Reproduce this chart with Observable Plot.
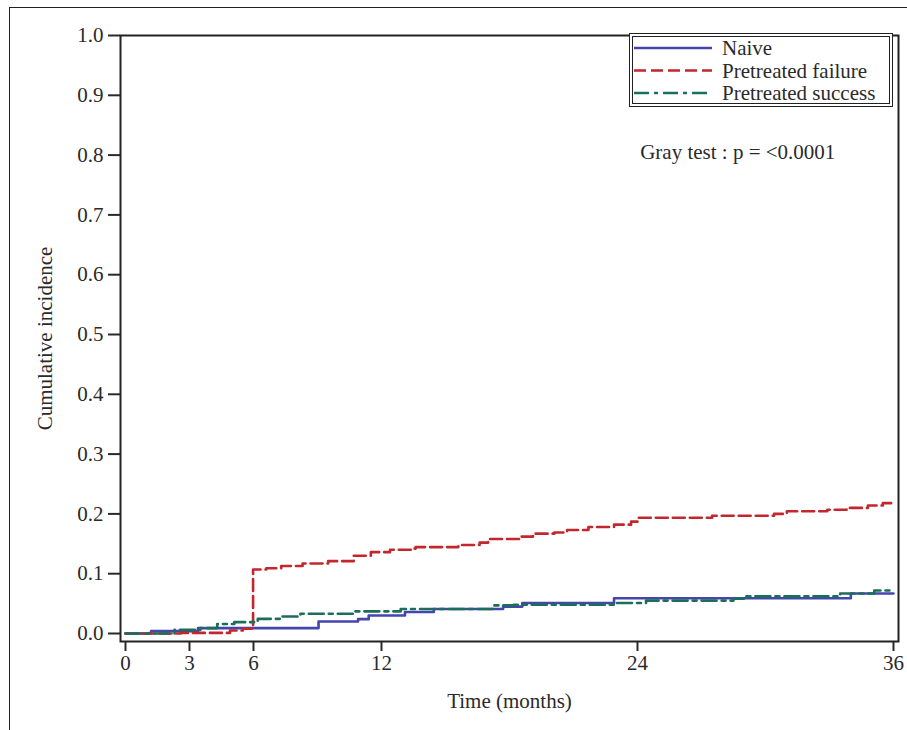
<!DOCTYPE html>
<html><head><meta charset="utf-8">
<script src="https://cdn.jsdelivr.net/npm/d3@7"></script>
<script src="https://cdn.jsdelivr.net/npm/@observablehq/plot@0.6"></script>
<style>
html,body{margin:0;padding:0;background:#fff;overflow:hidden;}
#wrap{position:relative;width:907px;height:730px;}
#outer{position:absolute;left:9px;top:7px;width:1200px;height:1200px;border:1.5px solid #222;pointer-events:none;}
#legend{position:absolute;left:629px;top:33px;width:256px;height:66px;border:4px double #222;background:#fff;}
#legend svg{overflow:visible;}
</style>
</head><body>
<div id="wrap"><div id="chart"></div><div id="legend"></div><div id="outer"></div></div>
<script>
// ---- data ----
const seriesNames = ["Naive", "Pretreated failure", "Pretreated success"];
const seriesColors = ["#4545ad", "#c1272d", "#1c6e5c"];
const seriesDash = [null, "12,5", "15,5,4,5"];

const naiveT = [0, 1.2, 3.4, 9.05, 10.9, 11.4, 13.1, 14.45, 17.7, 18.6, 22.9, 34.0, 36];
const naiveY = [0, 0.004, 0.009, 0.02, 0.024, 0.03, 0.036, 0.041, 0.045, 0.051, 0.059, 0.067, 0.067];

const failT = [0, 1.2, 2.6, 4.9, 5.5, 5.98, 6.6, 7.3, 8.3, 9.5, 10.7, 11.5, 12.4, 13.4, 13.6, 15.6, 16.6, 17.0, 18.5, 19.1, 20.1, 20.7, 21.7, 22.9, 23.7, 24.0, 27.5, 30.4, 31.0, 32.9, 33.8, 34.8, 35.5, 36];
const failY = [0, 0.0, 0.001, 0.005, 0.008, 0.107, 0.109, 0.113, 0.117, 0.121, 0.130, 0.136, 0.140, 0.142, 0.1445, 0.148, 0.152, 0.158, 0.162, 0.167, 0.169, 0.173, 0.178, 0.182, 0.187, 0.1935, 0.197, 0.200, 0.2045, 0.207, 0.210, 0.214, 0.218, 0.219];

const succT = [0, 2.3, 3.5, 4.3, 5.1, 6.2, 7.3, 8.2, 10.7, 12.9, 17.25, 18.2, 22.9, 24.4, 28.5, 29.0, 33.5, 35.1, 36];
const succY = [0, 0.006, 0.009, 0.016, 0.019, 0.0245, 0.0284, 0.033, 0.037, 0.041, 0.047, 0.048, 0.051, 0.055, 0.058, 0.062, 0.067, 0.072, 0.072];

const xTicks = [0, 3, 6, 12, 24, 36];
const yTicks = [0, 0.1, 0.2, 0.3, 0.4, 0.5, 0.6, 0.7, 0.8, 0.9, 1.0];
const annotation = {t: 28.7, v: 0.804, text: "Gray test : p = <0.0001"};

const seriesT = [naiveT, failT, succT];
const seriesY = [naiveY, failY, succY];

const font = "'Liberation Serif', 'DejaVu Serif', serif";
const fs = 21;

const lineMarks = seriesNames.map((name, i) => {
  const rows = seriesT[i].map((t, j) => ({t, v: seriesY[i][j]}));
  const opts = {x: "t", y: "v", curve: "step-after", stroke: seriesColors[i], strokeWidth: 2.6};
  if (seriesDash[i]) opts.strokeDasharray = seriesDash[i];
  return Plot.line(rows, opts);
});

const chart = Plot.plot({
  width: 907, height: 730,
  marginLeft: 120, marginRight: 9, marginTop: 35, marginBottom: 89,
  insetLeft: 5, insetRight: 5, insetBottom: 8, insetTop: 0,
  x: {domain: [0, 36]},
  y: {domain: [0, 1]},
  style: {fontFamily: font, fontSize: fs + "px", color: "#2a2a2a", background: "white"},
  marks: [
    Plot.axisX({ticks: xTicks, tickSize: 10, tickPadding: 4, strokeWidth: 2, fontSize: fs,
      label: "Time (months)", labelAnchor: "center", labelOffset: 66, labelArrow: "none"}),
    Plot.axisY({ticks: yTicks, tickFormat: ".1f", tickSize: 12, tickPadding: 5, strokeWidth: 2, fontSize: fs,
      label: "Cumulative incidence", labelAnchor: "center", labelOffset: 83, labelArrow: "none"}),
    ...lineMarks,
    Plot.frame({stroke: "#222", strokeWidth: 2}),
    Plot.text([annotation], {x: "t", y: "v", text: "text", fontSize: fs, fill: "#2a2a2a", textAnchor: "middle"})
  ]
});
document.getElementById("chart").appendChild(chart);

// legend
const leg = d3.select("#legend").append("svg").attr("width", 256).attr("height", 66)
  .style("position", "absolute").style("left", 0).style("top", 0);
seriesNames.forEach((name, i) => {
  const cy = 11 + i * 22.5;
  const ln = leg.append("line").attr("x1", 1).attr("x2", 79).attr("y1", cy).attr("y2", cy)
    .attr("stroke", seriesColors[i]).attr("stroke-width", 2.6);
  if (seriesDash[i]) ln.attr("stroke-dasharray", seriesDash[i]);
  leg.append("text").attr("x", 89).attr("y", cy).attr("dy", "0.35em")
    .attr("font-family", font).attr("font-size", fs).attr("fill", "#2a2a2a").text(name);
});
</script>
</body></html>
